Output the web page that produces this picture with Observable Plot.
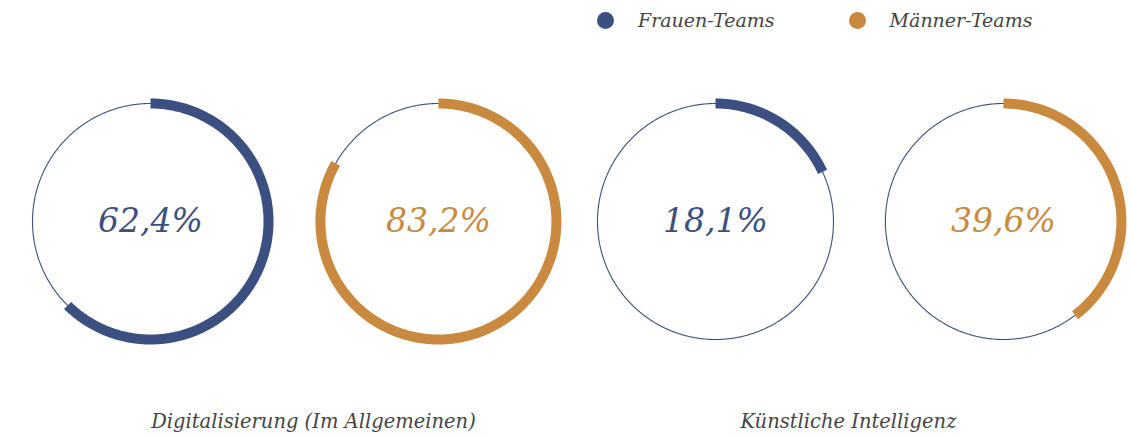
<!DOCTYPE html>
<html>
<head>
<meta charset="utf-8">
<script src="https://cdn.jsdelivr.net/npm/d3@7"></script>
<script src="https://cdn.jsdelivr.net/npm/@observablehq/plot@0.6"></script>
<style>
  html, body { margin: 0; padding: 0; background: #fff; }
  #wrap { width: 1132px; position: relative; }
  #legend { height: 40px; display: flex; align-items: center; padding-left: 597px;
    font-family: "DejaVu Serif", serif; font-style: italic; font-size: 19px; color: #444; }
  .sw { width: 17px; height: 17px; border-radius: 50%; display: inline-block; }
  .item { display: flex; align-items: center; }
  .item span.lab { margin-left: 24px; }
  .item + .item { margin-left: 74px; }
</style>
</head>
<body>
<div id="wrap">
  <div id="legend"></div>
  <div id="chart"></div>
</div>
<script>
// ---- data ----
const topics = ["Digitalisierung (Im Allgemeinen)", "Künstliche Intelligenz"];
const teams = ["Frauen-Teams", "Männer-Teams"];
const frauenValues = [62.4, 18.1];
const maennerValues = [83.2, 39.6];
const teamColors = ["#3b5081", "#c98a40"];

// ---- layout constants (in radius units) ----
const W = 1132, H = 397;
const R = 118;                 // px per radius unit
const firstCenterPx = 150;
const centerYPx = 181;
const teamStep = 2.44;
const groupStep = 4.788;
const labelDx = [19, -11];

const valuesByTeam = [frauenValues, maennerValues];
const donuts = [];
topics.forEach((topic, gi) => {
  teams.forEach((team, ti) => {
    donuts.push({
      topic, team, gi, ti,
      value: valuesByTeam[ti][gi],
      cx: gi * groupStep + ti * teamStep
    });
  });
});

function arcPoints(d, fraction) {
  const end = fraction * 360;
  const angles = d3.range(0, end, 0.5).concat([end]);
  return angles.map(a => {
    const t = a * Math.PI / 180;
    return {id: d.topic + d.team, team: d.team, x: d.cx + Math.sin(t), y: Math.cos(t)};
  });
}

const thin = donuts.flatMap(d => arcPoints(d, 1));
const thick = donuts.flatMap(d => arcPoints(d, d.value / 100));

const fmt = v => v.toFixed(1).replace(".", ",") + "%";

const groupLabels = topics.map((topic, gi) => ({topic, gi, x: gi * groupStep + teamStep / 2}));

const xDomain = [-firstCenterPx / R, (W - firstCenterPx) / R];
const yDomain = [-(H - centerYPx) / R, centerYPx / R];

const chart = Plot.plot({
  width: W,
  height: H,
  margin: 0,
  x: {domain: xDomain, axis: null},
  y: {domain: yDomain, axis: null},
  color: {domain: teams, range: teamColors},
  marks: [
    Plot.line(thin, {x: "x", y: "y", z: "id", stroke: teamColors[0], strokeWidth: 1.1}),
    Plot.line(thick, {x: "x", y: "y", z: "id", stroke: "team", strokeWidth: 10, strokeLinecap: "butt"}),
    Plot.text(donuts, {x: "cx", y: () => 0, text: d => fmt(d.value), fill: "team",
      fontSize: 33, fontStyle: "italic", fontFamily: "DejaVu Serif"}),
    ...groupLabels.map((g, i) => Plot.text([g], {x: "x", frameAnchor: "bottom", text: "topic",
      dx: labelDx[i], dy: -10, fill: "#444", fontSize: 19.5, fontStyle: "italic", fontFamily: "DejaVu Serif"}))
  ]
});
document.getElementById("chart").appendChild(chart);

// ---- legend ----
const legend = d3.select("#legend");
teams.forEach((t, i) => {
  const it = legend.append("div").attr("class", "item");
  it.append("span").attr("class", "sw").style("background", teamColors[i]);
  it.append("span").attr("class", "lab").text(t);
});
</script>
</body>
</html>
